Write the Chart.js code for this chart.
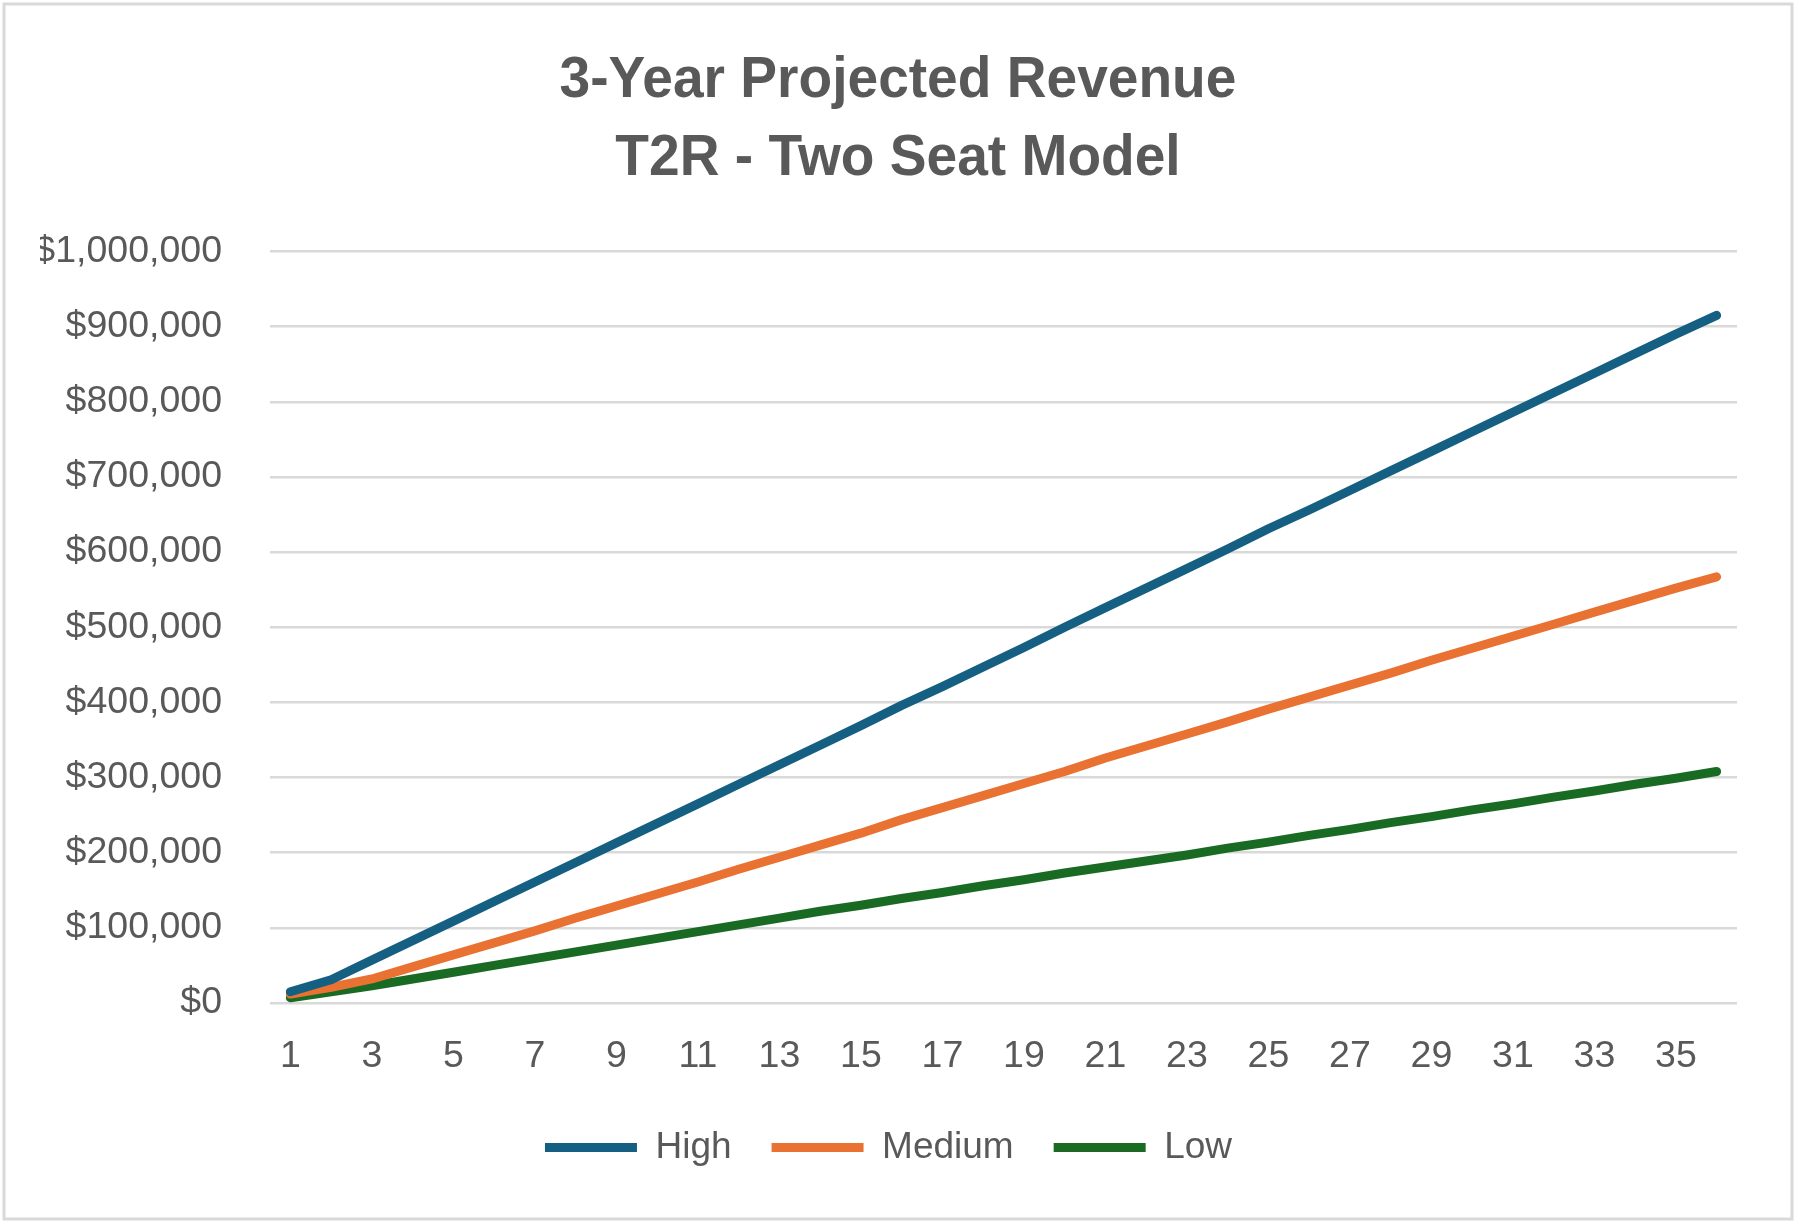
<!DOCTYPE html>
<html>
<head>
<meta charset="utf-8">
<title>3-Year Projected Revenue</title>
<script src="https://cdn.jsdelivr.net/npm/chart.js"></script>
<style>
  html, body { margin: 0; padding: 0; background: #fff; }
  #wrap { position: relative; width: 1796px; height: 1223px; }
</style>
</head>
<body>
<div id="wrap"><canvas id="myChart"></canvas></div>
<script>
// months 1..36
const months = [1,2,3,4,5,6,7,8,9,10,11,12,13,14,15,16,17,18,19,20,21,22,23,24,25,26,27,28,29,30,31,32,33,34,35,36];

// revenue
const highVals = [15000,31000,57000,83000,109000,135000,161000,187000,213000,239000,265000,291000,
  317000,343000,369000,396000,421000,447000,473000,500000,526000,552000,578000,604000,631000,656000,
  682000,708000,734000,760000,786000,812000,838000,864000,890000,915000];
const mediumVals = [12000,21000,32000,48000,64000,80000,96000,113000,129000,145000,161000,178000,
  194000,210000,226000,244000,260000,276000,292000,308000,326000,342000,358000,374000,391000,407000,
  423000,439000,456000,472000,488000,504000,520000,536000,552000,567000];
const lowVals = [7000,15000,23000,32000,41000,50000,59000,68000,77000,86000,95000,104000,
  113000,122000,130000,139000,147000,156000,164000,173000,181000,189000,197000,206000,214000,223000,
  231000,240000,248000,257000,265000,274000,282000,291000,299000,308000];

const seriesNames = ["High", "Medium", "Low"];
const seriesColors = ["#156082", "#E97132", "#196B24"];
const titleLines = ["3-Year Projected Revenue", "T2R - Two Seat Model"];

const textGray = "#595959";
const gridGray = "#D9D9D9";
const titleSize = 58;
const titleLH = 1.34;

// light gray frame round the whole chart, like the Excel chart area
const framePlugin = {
  id: "frame",
  beforeDraw(chart) {
    const ctx = chart.ctx;
    ctx.save();
    ctx.fillStyle = "#fff";
    ctx.fillRect(0, 0, chart.width, chart.height);
    ctx.strokeStyle = gridGray;
    ctx.lineWidth = 3;
    ctx.strokeRect(4, 4, chart.width - 8, chart.height - 8);
    ctx.restore();
  },
  // title drawn a bit narrower, the original uses a condensed face
  afterDraw(chart) {
    const tb = chart.titleBlock;
    const ctx = chart.ctx;
    ctx.save();
    ctx.fillStyle = textGray;
    ctx.font = "bold " + titleSize + "px 'Liberation Sans', Arial, sans-serif";
    ctx.textAlign = "center";
    ctx.textBaseline = "middle";
    const cx = chart.width / 2;
    titleLines.forEach((t, i) => {
      const cy = tb.top + titleSize * titleLH * (i + 0.5);
      ctx.save();
      ctx.translate(cx, cy);
      ctx.scale(0.95, 1);
      ctx.fillText(t, 0, 0);
      ctx.restore();
    });
    ctx.restore();
  }
};

function makeSet(i, vals) {
  return {
    label: seriesNames[i],
    data: vals,
    borderColor: seriesColors[i],
    backgroundColor: seriesColors[i],
    borderWidth: 9,
    borderCapStyle: "round",
    borderJoinStyle: "round",
    pointRadius: 0,
    pointHoverRadius: 0,
    pointStyle: "line",
    tension: 0
  };
}

new Chart("myChart", {
  type: "line",
  data: {
    labels: months,
    datasets: [makeSet(0, highVals), makeSet(1, mediumVals), makeSet(2, lowVals)]
  },
  options: {
    responsive: true,
    maintainAspectRatio: false,
    animation: false,
    layout: { padding: { left: 40, right: 59, top: 42, bottom: 47 } },
    plugins: {
      title: {
        display: true,
        text: titleLines,
        color: "rgba(0,0,0,0)",
        font: { family: "'Liberation Sans', Arial, sans-serif", size: titleSize, weight: "bold", lineHeight: titleLH },
        padding: { top: 0, bottom: 54 }
      },
      legend: {
        position: "bottom",
        labels: {
          color: textGray,
          font: { family: "'Liberation Sans', Arial, sans-serif", size: 37 },
          usePointStyle: true,
          pointStyleWidth: 92,
          boxHeight: 9,
          padding: 40
        }
      },
      tooltip: { enabled: false }
    },
    scales: {
      x: {
        offset: true,
        grid: { display: false },
        border: { display: false },
        ticks: {
          color: textGray,
          font: { family: "'Liberation Sans', Arial, sans-serif", size: 37.5 },
          padding: 23.5,
          maxRotation: 0,
          autoSkip: false,
          callback: function (v, i) { return i % 2 === 0 ? months[i] : ""; }
        },
        afterFit: function (scale) { scale.height = scale.height - 14; }
      },
      y: {
        min: 0,
        max: 1000000,
        grid: { color: gridGray, lineWidth: 2.5, drawTicks: false },
        border: { display: false },
        ticks: {
          stepSize: 100000,
          color: textGray,
          font: { family: "'Liberation Sans', Arial, sans-serif", size: 37.5 },
          padding: 48,
          callback: function (v) { return "$" + v.toLocaleString("en-US"); }
        },
        afterFit: function (scale) { scale.width = 230; }
      }
    }
  },
  plugins: [framePlugin]
});
</script>
</body>
</html>
